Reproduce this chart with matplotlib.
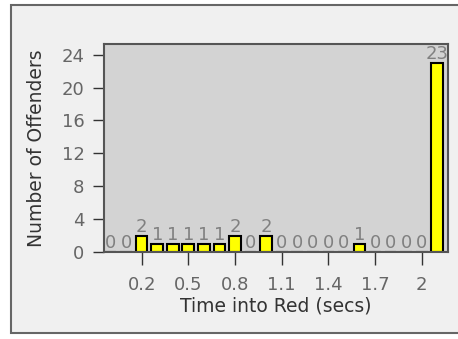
import matplotlib
matplotlib.use("Agg")
import matplotlib.pyplot as plt
from matplotlib.patches import Rectangle

# -----------------------
# Data
# -----------------------
times = [0.0, 0.1, 0.2, 0.3, 0.4, 0.5, 0.6, 0.7, 0.8, 0.9, 1.0,
         1.1, 1.2, 1.3, 1.4, 1.5, 1.6, 1.7, 1.8, 1.9, 2.0, 2.1]
offenders = [0, 0, 2, 1, 1, 1, 1, 1, 2, 0, 2,
             0, 0, 0, 0, 0, 1, 0, 0, 0, 0, 23]
xticks = [0.2, 0.5, 0.8, 1.1, 1.4, 1.7, 2.0]
xtick_labels = ["0.2", "0.5", "0.8", "1.1", "1.4", "1.7", "2"]
yticks = [0, 4, 8, 12, 16, 20, 24]

plt.rcParams['font.family'] = ['DejaVu Sans']

fig = plt.figure(figsize=(4.58, 3.39), dpi=100)
fig.patch.set_facecolor("white")

# panel frame
fig.patches.append(Rectangle((11 / 458, 1 - 333 / 339), 1.2, (333 - 5) / 339,
                             transform=fig.transFigure, facecolor="#f0f0f0",
                             edgecolor="#666666", linewidth=1.5, zorder=-10))

ax = fig.add_axes([104 / 458, 1 - 252 / 339, 344 / 458, 208 / 339])
ax.set_facecolor("#d3d3d3")

bars = ax.bar(times, offenders, width=0.075, color="#ffff00",
              edgecolor="black", linewidth=1.5, zorder=3)
for t, v in zip(times, offenders):
    ax.annotate(str(v), (t, v), xytext=(0, 0), textcoords="offset points",
                ha="center", va="bottom", fontsize=13, color="#808080",
                zorder=4, annotation_clip=False)

ax.set_xlim(-0.042, 2.169)
ax.set_ylim(0, 25.3)
ax.set_xticks(xticks)
ax.set_xticklabels(xtick_labels)
ax.set_yticks(yticks)

for s in ax.spines.values():
    s.set_color("#555555")
    s.set_linewidth(1.5)
    s.set_zorder(5)

ax.tick_params(axis="x", length=9, width=1, color="#333333",
               labelsize=13, labelcolor="#666666", pad=8)
ax.tick_params(axis="y", length=8, width=1, color="#333333",
               labelsize=13, labelcolor="#666666", pad=6)

ax.set_xlabel("Time into Red (secs)", fontsize=13.5, color="#333333", labelpad=2)
ax.set_ylabel("Number of Offenders", fontsize=13.5, color="#333333", labelpad=11)

fig.savefig("out.png", dpi=100, facecolor=fig.get_facecolor())
